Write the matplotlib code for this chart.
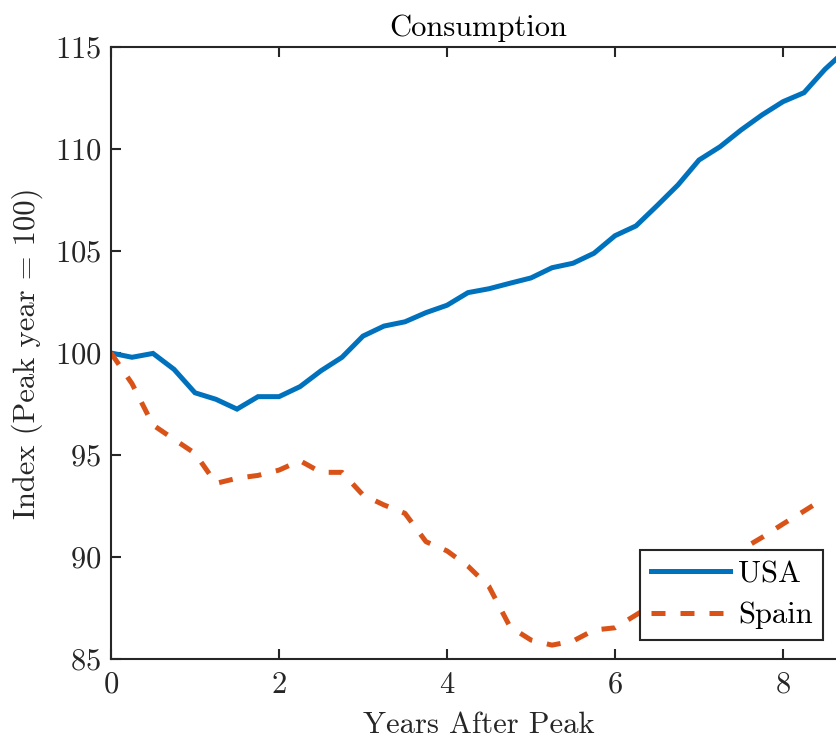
import matplotlib
matplotlib.use("Agg")
import matplotlib.pyplot as plt

plt.rcParams['font.family'] = 'serif'
plt.rcParams['font.serif'] = ['cmr10']
plt.rcParams['mathtext.fontset'] = 'cm'
plt.rcParams['axes.formatter.use_mathtext'] = True

years_usa = [0, 0.25, 0.5, 0.75, 1.0, 1.25, 1.5, 1.75, 2.0, 2.25, 2.5, 2.75,
             3.0, 3.25, 3.5, 3.75, 4.0, 4.25, 4.5, 4.75, 5.0, 5.25, 5.5, 5.75,
             6.0, 6.25, 6.5, 6.75, 7.0, 7.25, 7.5, 7.75, 8.0, 8.25, 8.5, 8.75]
usa = [100.0, 99.79, 99.98, 99.2, 98.05, 97.73, 97.25, 97.86, 97.86, 98.35, 99.13, 99.79,
       100.83, 101.32, 101.53, 101.98, 102.34, 102.96, 103.15, 103.42, 103.68, 104.18, 104.40, 104.89,
       105.75, 106.23, 107.22, 108.24, 109.46, 110.11, 110.93, 111.67, 112.32, 112.76, 113.91, 114.85]

years_spain = years_usa[:35]
spain = [100.0, 98.5, 96.47, 95.77, 95.08, 93.61, 93.86, 94.0, 94.26, 94.72, 94.15, 94.15,
         93.04, 92.55, 92.14, 90.75, 90.3, 89.55, 88.55, 86.58, 85.93, 85.68, 85.88, 86.42,
         86.53, 87.16, 87.8, 88.45, 89.1, 89.7, 90.35, 90.96, 91.62, 92.25, 92.9]

xticks = [0, 2, 4, 6, 8]
yticks = [85, 90, 95, 100, 105, 110, 115]

W, H = 836, 744
fig = plt.figure(figsize=(W / 100, H / 100), dpi=100)
ax = fig.add_axes([111 / W, (H - 659) / H, 735 / W, (659 - 47) / H])

ax.plot(years_usa, usa, color='#0072BD', lw=3.6, label='USA', solid_joinstyle='miter')
ax.plot(years_spain, spain, color='#D95319', lw=3.6, label='Spain',
        linestyle=(0, (2.8, 3.0)), dash_capstyle='butt')

ax.set_xlim(0, 8.75)
ax.set_ylim(85, 115)
ax.set_xticks(xticks)
ax.set_yticks(yticks)

fs = 22
axc = '#262626'
for s in ax.spines.values():
    s.set_color(axc)
    s.set_linewidth(1.5)
ax.tick_params(direction='in', length=7, width=1.5, color=axc, labelcolor=axc,
               labelsize=fs, top=True, right=True)
ax.tick_params(axis='x', pad=9)
ax.tick_params(axis='y', pad=7)

ax.set_title('Consumption', fontsize=fs, color='black', pad=8)
ax.set_xlabel('Years After Peak', fontsize=fs, color=axc, labelpad=9)
ax.set_ylabel('Index (Peak year = 100)', fontsize=fs, color=axc, labelpad=8)

leg = ax.legend(loc='upper left', bbox_to_anchor=(640 / W, 1 - 550 / H),
                bbox_transform=fig.transFigure, fontsize=fs, frameon=True,
                fancybox=False, framealpha=1, edgecolor=axc, borderaxespad=0,
                handlelength=2.6, handletextpad=0.25, labelspacing=0.45,
                borderpad=0.35)
leg.get_frame().set_linewidth(1.5)

fig.savefig('out.png', dpi=100)
